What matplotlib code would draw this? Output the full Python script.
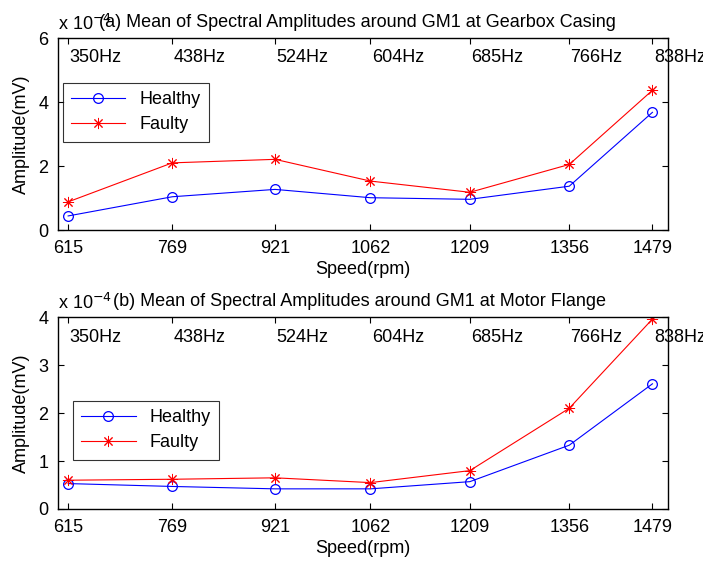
import matplotlib
matplotlib.use('Agg')
import matplotlib.pyplot as plt

plt.rcParams['font.family'] = ['Liberation Sans', 'DejaVu Sans']
plt.rcParams['font.size'] = 13

# Speeds (rpm) and matching mesh frequencies
speed = [615, 769, 921, 1062, 1209, 1356, 1479]
freq_labels = ['350Hz', '438Hz', '524Hz', '604Hz', '685Hz', '766Hz', '838Hz']

# Amplitudes in units of 1e-4 mV
casing_healthy = [0.44, 1.04, 1.27, 1.01, 0.96, 1.37, 3.68]
casing_faulty = [0.88, 2.10, 2.21, 1.53, 1.18, 2.05, 4.37]
flange_healthy = [0.53, 0.47, 0.42, 0.42, 0.57, 1.33, 2.61]
flange_faulty = [0.60, 0.62, 0.65, 0.55, 0.80, 2.10, 3.96]

titles = ['(a) Mean of Spectral Amplitudes around GM1 at Gearbox Casing',
          '(b) Mean of Spectral Amplitudes around GM1 at Motor Flange']

fig = plt.figure(figsize=(7.03, 5.61), dpi=100)
ax1 = fig.add_axes([0.0825, 0.590, 0.8677, 0.342])
ax2 = fig.add_axes([0.0825, 0.0927, 0.8677, 0.342])

panels = [
    (ax1, casing_healthy, casing_faulty, [0, 2, 4, 6], 6, 5.38, (0.008, 0.765), 0.068),
    (ax2, flange_healthy, flange_faulty, [0, 1, 2, 3, 4], 4, 3.58, (0.025, 0.562), 0.09),
]

for i, (ax, healthy, faulty, yticks, ymax, ytxt, leg_pos, title_x) in enumerate(panels):
    ax.plot(speed, healthy, color='blue', marker='o', markersize=7,
            markerfacecolor='none', markeredgewidth=0.9, linewidth=0.8,
            label='Healthy')
    ax.plot(speed, faulty, color='red', marker=(8, 2, 0), markersize=8,
            markeredgewidth=0.7, linewidth=0.8, label='Faulty')
    ax.set_xlim(600, 1502)
    ax.set_ylim(0, ymax)
    ax.set_xticks(speed)
    ax.set_yticks(yticks)
    ax.tick_params(direction='in', top=True, right=True, length=4, width=0.8, pad=7)
    for s in ax.spines.values():
        s.set_linewidth(1.0)
    for x, lab in zip(speed, freq_labels):
        ax.text(x + 2, ytxt, lab, ha='left', va='center', fontsize=13, clip_on=False)
    ax.set_xlabel('Speed(rpm)', labelpad=3)
    ax.set_ylabel('Amplitude(mV)', labelpad=6)
    leg = ax.legend(loc='upper left', bbox_to_anchor=leg_pos, frameon=True,
                    fancybox=False, edgecolor='black', handlelength=3.0,
                    borderpad=0.45, labelspacing=0.45, borderaxespad=0,
                    fontsize=13)
    leg.get_frame().set_linewidth(0.8)
    ax.text(0.0, 1.02, r'x 10$^{-4}$', transform=ax.transAxes, ha='left',
            va='bottom', fontsize=13)
    ax.text(title_x, 1.035, titles[i], transform=ax.transAxes, ha='left',
            va='bottom', fontsize=13)

fig.savefig('out.png', dpi=100)
